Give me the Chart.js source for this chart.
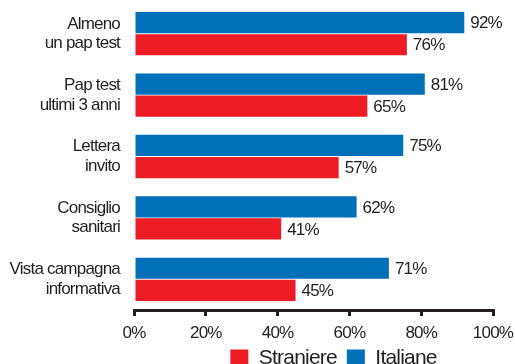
<!DOCTYPE html>
<html>
<head>
<meta charset="utf-8">
<script src="https://cdn.jsdelivr.net/npm/chart.js@4.4.1/dist/chart.umd.min.js"></script>
<style>
  html, body { margin: 0; padding: 0; background: #fff; }
  #wrap { width: 515px; height: 364px; overflow: hidden; }
  #wrap div { width: 515px; height: 381px; }
</style>
</head>
<body>
<div id="wrap"><div><canvas id="grafico"></canvas></div></div>
<script>
// dati
const categorie = [
    ['Almeno', 'un pap test'],
    ['Pap test', 'ultimi 3 anni'],
    ['Lettera', 'invito'],
    ['Consiglio', 'sanitari'],
    ['Vista campagna', 'informativa']
];
const italiane = [92, 81, 75, 62, 71];
const straniere = [76, 65, 57, 41, 45];
const tickX = [0, 20, 40, 60, 80, 100];

const fonte = "'Liberation Sans', Arial, sans-serif";
const testo = '#231f20';

// testo un po' più stretto, come nell'originale
const spaziatura = {
    id: 'spaziatura',
    beforeUpdate(chart) { chart.ctx.letterSpacing = '-0.8px'; },
    beforeDraw(chart) { chart.ctx.letterSpacing = '-0.8px'; }
};

// la legenda nell'originale sta più a destra
const spostaLegenda = {
    id: 'spostaLegenda',
    afterLayout(chart) {
        const lg = chart.legend;
        lg.left += 87;
        lg.right += 87;
        lg.top -= 2;
        lg.bottom -= 2;
    }
};

const etichette = {
    id: 'etichette',
    afterDatasetsDraw(chart) {
        const ctx = chart.ctx;
        ctx.save();
        ctx.font = '17px ' + fonte;
        ctx.fillStyle = testo;
        ctx.textBaseline = 'middle';
        ctx.textAlign = 'left';
        chart.data.datasets.forEach((ds, i) => {
            chart.getDatasetMeta(i).data.forEach((bar, j) => {
                ctx.fillText(ds.data[j] + '%', bar.x + 6, bar.y + 1);
            });
        });
        ctx.restore();
    }
};

window.addEventListener('DOMContentLoaded', () => {
    const ctx = document.getElementById('grafico');
    new Chart(ctx, {
        type: 'bar',
        data: {
            labels: categorie,
            datasets: [
                { label: 'Italiane', data: italiane, backgroundColor: '#0070b9' },
                { label: 'Straniere', data: straniere, backgroundColor: '#ed1c24' }
            ]
        },
        options: {
            indexAxis: 'y',
            responsive: true,
            maintainAspectRatio: false,
            animation: false,
            categoryPercentage: 0.72,
            barPercentage: 0.96,
            layout: { padding: { top: 3, right: 22, left: 0, bottom: 0 } },
            plugins: {
                legend: {
                    position: 'bottom',
                    reverse: true,
                    labels: {
                        boxWidth: 18,
                        boxHeight: 18,
                        padding: 10,
                        color: testo,
                        font: { family: fonte, size: 21 }
                    }
                },
                tooltip: { enabled: false }
            },
            scales: {
                x: {
                    min: 0,
                    max: 100,
                    afterBuildTicks: (s) => { s.ticks = tickX.map(v => ({ value: v })); },
                    afterFit: (s) => { s.height = 30; s.paddingLeft = 0; s.paddingRight = 0; },
                    border: { display: true, width: 3, color: '#231f20' },
                    grid: { drawOnChartArea: false, drawTicks: true, tickLength: 6, lineWidth: 3, color: '#231f20' },
                    ticks: {
                        color: testo,
                        padding: 7,
                        font: { family: fonte, size: 17 },
                        callback: v => v + '%'
                    }
                },
                y: {
                    afterFit: (s) => { s.width = 134; s.paddingTop = 0; s.paddingBottom = 0; },
                    border: { display: false },
                    grid: { display: false, drawTicks: false },
                    ticks: {
                        color: testo,
                        padding: 14,
                        font: { family: fonte, size: 17, lineHeight: 1.15 }
                    }
                }
            }
        },
        plugins: [spaziatura, spostaLegenda, etichette]
    });
});
</script>
</body>
</html>
